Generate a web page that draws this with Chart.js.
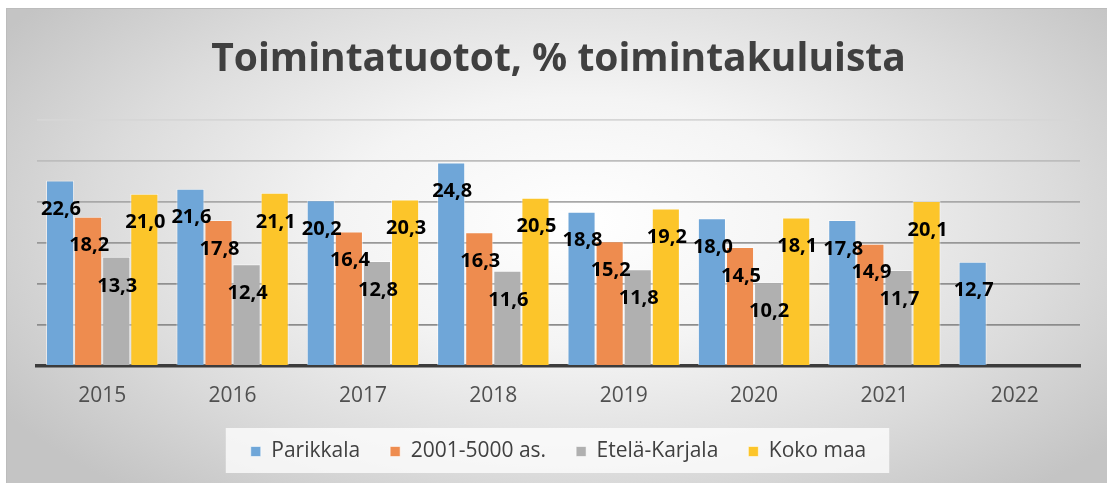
<!DOCTYPE html>
<html>
<head>
<meta charset="utf-8">
<script src="https://cdn.jsdelivr.net/npm/chart.js@4.4.1/dist/chart.umd.min.js"></script>
<style>
  html, body { margin: 0; padding: 0; background: #fff; }
  #wrap { position: relative; width: 1107px; height: 483px; overflow: hidden; }
  #bg {
    position: absolute; left: 6px; top: 8px; right: 0; bottom: 0;
    border-top: 1px solid #bcbcbc; border-left: 1px solid #bcbcbc;
    background: radial-gradient(ellipse 62% 75% at 52% 45%, #ffffff 0%, #f4f4f4 35%, #dcdcdc 70%, #c4c4c4 100%);
  }
  canvas { position: absolute; left: 0; top: 0; }
</style>
</head>
<body>
<div id="wrap">
  <div id="bg"></div>
  <canvas id="chart" width="1107" height="483"></canvas>
</div>
<script>
const years = ["2015", "2016", "2017", "2018", "2019", "2020", "2021", "2022"];
const parikkala = [22.6, 21.6, 20.2, 24.8, 18.8, 18.0, 17.8, 12.7];
const kunnat2001_5000 = [18.2, 17.8, 16.4, 16.3, 15.2, 14.5, 14.9, null];
const etelaKarjala = [13.3, 12.4, 12.8, 11.6, 11.8, 10.2, 11.7, null];
const kokoMaa = [21.0, 21.1, 20.3, 20.5, 19.2, 18.1, 20.1, null];
const seriesNames = ["Parikkala", "2001-5000 as.", "Etelä-Karjala", "Koko maa"];

const FONT = "'Open Sans', 'DejaVu Sans', sans-serif";

const fmt = (v) => v.toFixed(1).replace(".", ",");

// gridlines fade out towards the top of the plot
const gridShades = {
  0: "#8a8a8a",
  5: "#8c8c8c",
  10: "#909090",
  15: "#989898",
  20: "#a8a8a8",
  25: "#bdbdbd",
  30: "#d6d6d6",
};

// value labels drawn inside the top of every bar
const barLabels = {
  id: "barLabels",
  afterDatasetsDraw(chart) {
    const ctx = chart.ctx;
    ctx.save();
    ctx.font = "bold 20px " + FONT;
    ctx.fillStyle = "#000";
    ctx.textAlign = "center";
    ctx.textBaseline = "middle";
    chart.data.datasets.forEach((ds, i) => {
      chart.getDatasetMeta(i).data.forEach((bar, j) => {
        const v = ds.data[j];
        if (v == null) return;
        ctx.fillText(fmt(v), bar.x + 1, bar.y + 29);
      });
    });
    ctx.restore();
  },
};

// white panel behind the legend
const legendPanel = {
  id: "legendPanel",
  beforeDraw(chart) {
    const lg = chart.legend;
    if (!lg || !lg.legendHitBoxes || !lg.legendHitBoxes.length) return;
    const boxes = lg.legendHitBoxes;
    const left = Math.min(...boxes.map((b) => b.left)) - 25;
    const right = Math.max(...boxes.map((b) => b.left + b.width)) + 23;
    const ctx = chart.ctx;
    ctx.save();
    ctx.fillStyle = "rgba(255,255,255,0.75)";
    ctx.fillRect(left, 428, right - left, 45);
    ctx.restore();
  },
};

const mk = (label, data, color) => ({
  label,
  data,
  backgroundColor: color,
  borderColor: "rgba(255,255,255,0.55)",
  borderWidth: 1,
  categoryPercentage: 0.862,
  barPercentage: 1.0,
});

new Chart(document.getElementById("chart"), {
  type: "bar",
  data: {
    labels: years,
    datasets: [
      mk(seriesNames[0], parikkala, "#6fa6d8"),
      mk(seriesNames[1], kunnat2001_5000, "#ee8c4f"),
      mk(seriesNames[2], etelaKarjala, "#b0b0b0"),
      mk(seriesNames[3], kokoMaa, "#fcc52a"),
    ],
  },
  options: {
    responsive: false,
    animation: false,
    layout: { padding: { left: 37, right: 27, top: 0, bottom: 11 } },
    scales: {
      x: {
        grid: { display: false, drawTicks: false },
        border: { display: true, color: "#3c3c3c", width: 3.5 },
        ticks: { color: "#505050", font: { size: 21, family: FONT }, padding: 17 },
        afterFit(scale) {
          scale.height = 45;
        },
      },
      y: {
        min: 0,
        max: 30,
        ticks: { display: false, stepSize: 5 },
        grid: {
          color: (c) => gridShades[c.tick ? c.tick.value : 0] || "#999",
          lineWidth: 1.8,
          drawTicks: false,
        },
        border: { display: false },
      },
    },
    plugins: {
      title: {
        display: true,
        text: "Toimintatuotot, % toimintakuluista",
        color: "#404040",
        font: { size: 39, weight: "bold", family: FONT },
        padding: { top: 36, bottom: 37 },
      },
      legend: {
        position: "bottom",
        labels: {
          color: "#404040",
          font: { size: 21, family: FONT },
          boxWidth: 10,
          boxHeight: 10,
          padding: 30,
        },
      },
      tooltip: { enabled: false },
    },
  },
  plugins: [legendPanel, barLabels],
});
</script>
</body>
</html>
